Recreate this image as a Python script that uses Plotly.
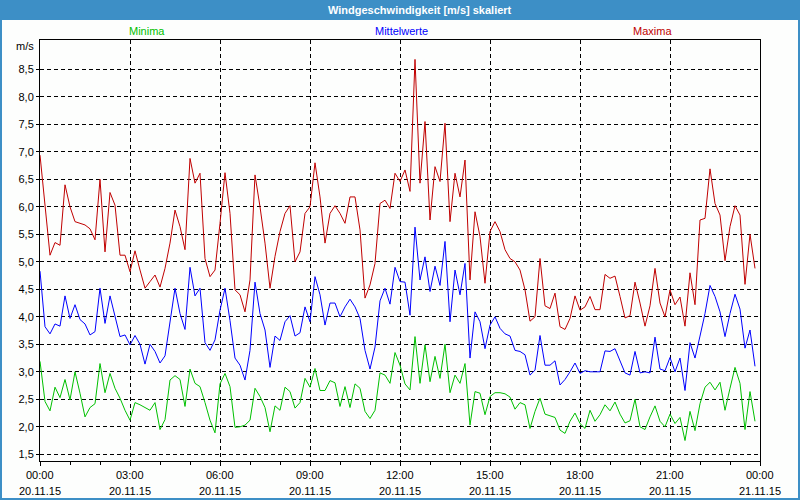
import pandas as pd
import plotly.graph_objects as go

# ---- data (10-minute values, 20.11.15) ----
maxima = [6.94, 6.05, 5.12, 5.35, 5.3, 6.4, 6.0, 5.73, 5.7, 5.67, 5.6, 5.4, 6.5, 5.18, 6.26, 6.03, 5.12, 5.12, 4.82, 5.2, 4.85, 4.52, 4.64, 4.76, 4.54,
          4.88, 5.34, 5.94, 5.64, 5.22, 6.88, 6.43, 6.61, 5.06, 4.73, 4.85, 5.7, 6.62, 5.88, 4.49, 4.4, 4.09, 4.67, 6.58, 6.0, 5.34, 4.52, 5.1, 5.55,
          5.88, 6.02, 5.0, 5.18, 5.88, 6.0, 6.8, 6.18, 5.34, 5.88, 6.02, 5.88, 5.7, 6.18, 6.18, 5.58, 4.34, 4.58, 4.97, 6.06, 6.12, 5.97, 6.61, 6.46, 6.67,
          6.28, 8.68, 6.43, 7.55, 5.76, 6.73, 6.46, 7.52, 5.73, 6.61, 6.18, 6.85, 4.67, 5.91, 5.46, 4.61, 5.55, 5.73, 5.55, 5.22, 5.06, 5.0, 4.85, 4.49,
          3.92, 4.0, 5.06, 4.2, 4.15, 4.43, 3.82, 3.77, 3.97, 4.38, 4.12, 4.18, 4.37, 4.13, 4.13, 4.77, 4.7, 4.74, 4.37, 3.98, 4.02, 4.63, 4.25, 3.83, 4.2,
          4.88, 4.25, 4.0, 4.49, 4.22, 4.36, 3.83, 4.8, 4.22, 5.76, 5.79, 6.69, 6.06, 5.85, 5.02, 5.64, 6.02, 5.85, 4.59, 5.5, 4.88]

mittelwerte = [4.83, 3.82, 3.69, 3.87, 3.83, 4.38, 3.97, 4.22, 3.95, 3.87, 3.67, 3.73, 4.52, 3.88, 4.38, 4.03, 3.64, 3.67, 3.49, 3.66, 3.5, 3.14, 3.5, 3.37, 3.16,
               3.29, 3.93, 4.52, 4.06, 3.77, 4.9, 4.38, 4.52, 3.53, 3.39, 3.58, 4.12, 4.52, 3.93, 3.25, 3.12, 2.85, 3.39, 4.63, 4.06, 3.76, 3.08, 3.65, 3.57,
               3.91, 4.02, 3.65, 3.71, 4.18, 3.91, 4.73, 4.4, 3.85, 4.25, 4.25, 4.0, 4.18, 4.32, 4.18, 3.97, 3.39, 3.05, 3.45, 4.29, 4.52, 4.23, 4.9, 4.64, 4.63,
               4.03, 5.63, 4.67, 5.09, 4.46, 4.92, 4.57, 5.37, 3.91, 4.85, 4.4, 4.97, 3.25, 4.09, 3.91, 3.42, 3.85, 4.0, 3.79, 3.69, 3.65, 3.39, 3.37, 3.31,
               2.94, 3.03, 3.66, 3.12, 3.12, 3.2, 2.76, 2.86, 3.0, 3.16, 2.97, 3.02, 3.0, 3.0, 3.0, 3.38, 3.37, 3.42, 3.19, 2.98, 2.94, 3.37, 2.98, 3.0, 2.98,
               3.63, 3.05, 3.02, 3.26, 3.0, 3.25, 2.66, 3.53, 3.25, 3.65, 4.06, 4.57, 4.37, 4.09, 3.64, 4.06, 4.41, 4.14, 3.43, 3.76, 3.1]

minima = [3.19, 2.46, 2.29, 2.72, 2.53, 2.86, 2.49, 3.0, 2.61, 2.18, 2.35, 2.42, 3.15, 2.62, 2.97, 2.7, 2.52, 2.3, 2.12, 2.44, 2.4, 2.35, 2.3, 2.44, 1.95,
          2.13, 2.85, 2.93, 2.86, 2.37, 3.05, 2.79, 2.73, 2.44, 2.12, 1.89, 2.78, 2.97, 2.73, 1.99, 2.0, 2.03, 2.12, 2.7, 2.55, 2.35, 1.91, 2.38, 2.3,
          2.72, 2.64, 2.34, 2.44, 2.88, 2.72, 3.06, 2.66, 2.66, 2.84, 2.8, 2.37, 2.73, 2.35, 2.78, 2.7, 2.28, 2.15, 2.3, 2.98, 2.94, 2.79, 3.35, 3.12, 2.78,
          2.67, 3.64, 2.79, 3.49, 2.82, 3.28, 2.88, 3.5, 2.62, 2.94, 2.79, 3.15, 2.03, 2.64, 2.61, 2.22, 2.55, 2.62, 2.62, 2.6, 2.54, 2.32, 2.44, 2.4,
          1.97, 2.28, 2.52, 2.23, 2.2, 2.17, 1.94, 1.88, 2.1, 2.25, 2.06, 1.97, 2.3, 2.1, 2.22, 2.4, 2.29, 2.45, 2.23, 2.07, 2.11, 2.5, 2.0, 1.95, 2.18,
          2.38, 2.1, 2.0, 2.23, 2.06, 2.17, 1.75, 2.28, 1.93, 2.42, 2.72, 2.81, 2.67, 2.81, 2.3, 2.7, 3.08, 2.79, 1.95, 2.64, 2.1]

times = pd.date_range("2015-11-20 00:00", periods=len(maxima), freq="10min")
tick_vals = pd.date_range("2015-11-20 00:00", "2015-11-21 00:00", freq="3h")
tick_times = ["00:00", "03:00", "06:00", "09:00", "12:00", "15:00", "18:00", "21:00", "00:00"]
tick_dates = ["20.11.15"] * 8 + ["21.11.15"]
y_ticks = [1.5, 2.0, 2.5, 3.0, 3.5, 4.0, 4.5, 5.0, 5.5, 6.0, 6.5, 7.0, 7.5, 8.0, 8.5]
series_names = ["Minima", "Mittelwerte", "Maxima"]
series_colors = ["#00c000", "#0000ff", "#c00000"]

W, H = 800, 500
L, R, T, B = 40, 40, 40, 39
PW, PH = W - L - R, H - T - B


def pxx(px):
    return (px - L) / PW


def pxy(py):
    return (H - B - py) / PH


fig = go.Figure()
for name, vals, col in zip(series_names, [minima, mittelwerte, maxima], series_colors):
    fig.add_trace(go.Scatter(x=times, y=vals, mode="lines", name=name,
                             line=dict(color=col, width=1), showlegend=False))

grid_dash = "4px,3px"
fig.update_layout(
    width=W, height=H,
    margin=dict(l=L, r=R, t=T, b=B, pad=0),
    paper_bgcolor="#fdfefd", plot_bgcolor="#fdfefd",
    font=dict(family="Liberation Sans, Arial, sans-serif", size=11, color="#000000"),
    separators=",.",
    xaxis=dict(
        type="date",
        range=[tick_vals[0], tick_vals[-1]],
        tickvals=list(tick_vals),
        showticklabels=False,
        ticks="outside", ticklen=4, tickcolor="#000000",
        showline=True, linecolor="#000000", linewidth=1, mirror=True,
        showgrid=True, gridcolor="#000000", gridwidth=1, griddash=grid_dash,
        zeroline=False,
        minor=dict(dtick=3600000, ticks="outside", ticklen=3, tickcolor="#000000", showgrid=False),
    ),
    yaxis=dict(
        range=[1.378, 9.033],
        tickvals=y_ticks, tickformat=".1f",
        ticks="outside", ticklen=3, tickcolor="#000000",
        showline=True, linecolor="#000000", linewidth=1, mirror=True,
        showgrid=True, gridcolor="#000000", gridwidth=1, griddash=grid_dash,
        zeroline=False,
        tickfont=dict(size=11, color="#000000"),
    ),
    shapes=[
        dict(type="rect", xref="paper", yref="paper",
             x0=pxx(0), x1=pxx(W), y0=pxy(20), y1=pxy(0),
             fillcolor="#3d8fc6", line=dict(width=0), layer="above"),
        dict(type="rect", xref="paper", yref="paper",
             x0=pxx(1), x1=pxx(W - 1), y0=pxy(H - 1), y1=pxy(1),
             fillcolor="rgba(0,0,0,0)", line=dict(color="#3d8fc6", width=2), layer="above"),
    ],
    annotations=[
        dict(text="<b>Windgeschwindigkeit [m/s] skaliert</b>", xref="paper", yref="paper",
             x=pxx(420), y=pxy(10), xanchor="center", yanchor="middle", showarrow=False,
             font=dict(color="#ffffff", size=11)),
        dict(text="m/s", xref="paper", yref="paper", x=pxx(36), y=pxy(46),
             xanchor="right", yanchor="middle", showarrow=False, font=dict(size=11)),
    ] + [
        dict(text=n, xref="paper", yref="paper", x=pxx(cx), y=pxy(31),
             xanchor="center", yanchor="middle", showarrow=False, font=dict(size=11, color=c))
        for n, c, cx in zip(series_names, series_colors, [147, 401, 652])
    ] + [
        dict(text=t, xref="x", yref="paper", x=tv, y=pxy(475),
             xanchor="center", yanchor="middle", showarrow=False, font=dict(size=11))
        for t, tv in zip(tick_times, tick_vals)
    ] + [
        dict(text=d, xref="x", yref="paper", x=tv, y=pxy(491),
             xanchor="center", yanchor="middle", showarrow=False, font=dict(size=11))
        for d, tv in zip(tick_dates, tick_vals)
    ],
)

fig.write_html("out.html", config={"displayModeBar": False},
               post_script="document.body.style.margin='0';document.body.style.overflow='hidden';")
